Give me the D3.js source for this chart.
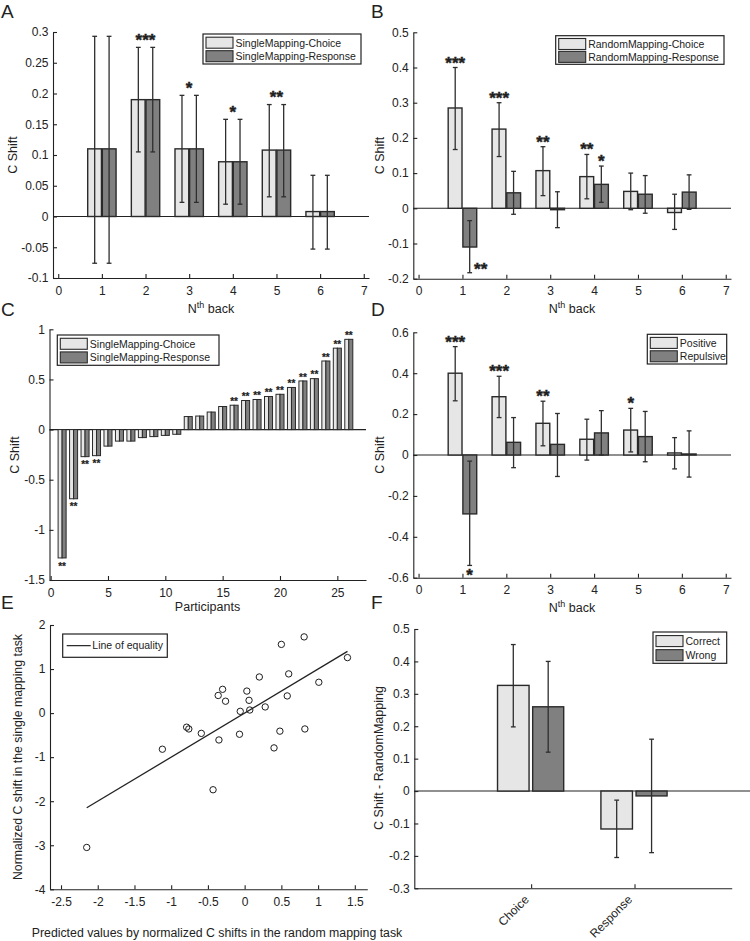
<!DOCTYPE html>
<html><head><meta charset="utf-8">
<script src="https://cdn.jsdelivr.net/npm/d3@7"></script>
<style>
body{margin:0;background:#fff}
svg{display:block}
text{font-family:"Liberation Sans", Arial, Helvetica, sans-serif;fill:#222}
</style>
</head><body>
<svg id="c" width="750" height="941"></svg>
<script>
// ---------------- DATA ----------------
const nBack = [1, 2, 3, 4, 5, 6];
const nBackTicks = [0, 1, 2, 3, 4, 5, 6, 7];

// Panel A
const aChoice     = [0.110, 0.190, 0.110, 0.089, 0.108, 0.008];
const aChoiceLo   = [-0.076, 0.105, 0.023, 0.020, 0.032, -0.053];
const aChoiceHi   = [0.293, 0.275, 0.197, 0.158, 0.182, 0.067];
const aResponse   = [0.110, 0.190, 0.110, 0.089, 0.108, 0.008];
const aResponseLo = [-0.076, 0.105, 0.023, 0.020, 0.032, -0.053];
const aResponseHi = [0.293, 0.275, 0.197, 0.158, 0.182, 0.067];
const aStars      = ["", "***", "*", "*", "**", ""];
const aYTicks     = [-0.1, -0.05, 0, 0.05, 0.1, 0.15, 0.2, 0.25, 0.3];

// Panel B
const bChoice     = [0.285, 0.225, 0.107, 0.090, 0.048, -0.012];
const bChoiceLo   = [0.167, 0.147, 0.036, 0.027, -0.004, -0.060];
const bChoiceHi   = [0.400, 0.300, 0.175, 0.153, 0.100, 0.040];
const bResponse   = [-0.110, 0.044, -0.004, 0.068, 0.040, 0.046];
const bResponseLo = [-0.183, -0.017, -0.055, 0.017, -0.014, -0.003];
const bResponseHi = [-0.035, 0.105, 0.047, 0.120, 0.093, 0.095];
const bChoiceStars   = ["***", "***", "**", "**", "", ""];
const bResponseStars = ["**", "", "", "*", "", ""];
const bYTicks = [-0.2, -0.1, 0, 0.1, 0.2, 0.3, 0.4, 0.5];

// Panel C
const participants = d3.range(1, 27);
const cChoice   = [-1.28, -0.69, -0.27, -0.26, -0.165, -0.115, -0.115, -0.08, -0.07, -0.058, -0.047,
                   0.13, 0.135, 0.175, 0.23, 0.243, 0.29, 0.30, 0.33, 0.352, 0.42, 0.485, 0.508, 0.684, 0.812, 0.90];
const cResponse = [-1.28, -0.69, -0.27, -0.26, -0.165, -0.115, -0.115, -0.08, -0.07, -0.058, -0.047,
                   0.13, 0.135, 0.175, 0.23, 0.243, 0.29, 0.30, 0.33, 0.352, 0.42, 0.485, 0.508, 0.684, 0.812, 0.90];
const cStars = ["**", "**", "**", "**", "", "", "", "", "", "", "", "", "", "", "",
                "**", "**", "**", "**", "**", "**", "**", "**", "**", "**", "**"];
const cXTicks = [0, 5, 10, 15, 20, 25];
const cYTicks = [-1.5, -1, -0.5, 0, 0.5, 1];

// Panel D
const dPositive     = [0.400, 0.285, 0.155, 0.077, 0.122, 0.010];
const dPositiveLo   = [0.265, 0.183, 0.045, -0.025, 0.015, -0.068];
const dPositiveHi   = [0.530, 0.385, 0.263, 0.175, 0.228, 0.085];
const dRepulsive    = [-0.288, 0.062, 0.052, 0.108, 0.090, 0.005];
const dRepulsiveLo  = [-0.540, -0.062, -0.105, 0.000, -0.033, -0.108];
const dRepulsiveHi  = [-0.030, 0.183, 0.203, 0.217, 0.213, 0.118];
const dPositiveStars  = ["***", "***", "**", "", "*", ""];
const dRepulsiveStars = ["*", "", "", "", "", ""];
const dYTicks = [-0.6, -0.4, -0.2, 0, 0.2, 0.4, 0.6];

// Panel E
const ePredicted = [-2.15, -1.12, -0.79, -0.76, -0.59, -0.43, -0.35, -0.07, -0.36, -0.30, -0.26, -0.06, 0.07,
                    0.06, 0.03, 0.20, 0.28, 0.40, 0.48, 0.58, 0.60, 0.50, 0.81, 0.82, 1.01, 1.40];
const eSingle    = [-3.05, -0.82, -0.32, -0.36, -0.46, -1.74, -0.61, -0.48, 0.40, 0.54, 0.27, 0.04, 0.07,
                    0.29, 0.50, 0.82, 0.14, -0.79, -0.41, 0.39, 0.89, 1.56, 1.73, -0.36, 0.70, 1.26];
const eXTicks = [-2.5, -2, -1.5, -1, -0.5, 0, 0.5, 1, 1.5];
const eYTicks = [-4, -3, -2, -1, 0, 1, 2];

// Panel F
const fCategories = ["Choice", "Response"];
const fCorrect    = [0.326, -0.117];
const fCorrectLo  = [0.198, -0.205];
const fCorrectHi  = [0.452, -0.028];
const fWrong      = [0.260, -0.015];
const fWrongLo    = [0.120, -0.190];
const fWrongHi    = [0.400, 0.160];
const fYTicks = [-0.3, -0.2, -0.1, 0, 0.1, 0.2, 0.3, 0.4, 0.5];

// ---------------- DRAWING ----------------
const svg = d3.select("#c");
const FONT = '"Liberation Sans", Arial, Helvetica, sans-serif';
const LIGHT = "#e6e6e6", DARK = "#808080", EDGE = "#2a2a2a", INK = "#222";

function drawAxes(x, y, xTicks, yTicks, xFmt) {
  const gx = svg.append("g").attr("transform", `translate(0,${y.range()[0]})`)
    .call(d3.axisBottom(x).tickValues(xTicks).tickSizeInner(-4).tickSizeOuter(0).tickPadding(8)
      .tickFormat(xFmt || (d => String(d))));
  const gy = svg.append("g").attr("transform", `translate(${x.range()[0]},0)`)
    .call(d3.axisLeft(y).tickValues(yTicks).tickSizeInner(-4).tickSizeOuter(0).tickPadding(4.5)
      .tickFormat(d => String(d)));
  [gx, gy].forEach(g => {
    g.attr("font-family", FONT).attr("font-size", 12);
    g.select(".domain").attr("stroke", INK).attr("stroke-width", 1.1);
    g.selectAll(".tick line").attr("stroke", INK).attr("stroke-width", 1.1);
    g.selectAll("text").attr("fill", INK);
  });
  return [gx, gy];
}

function zeroLine(x, y, xEnd) {
  svg.append("line").attr("x1", x.range()[0]).attr("x2", xEnd)
    .attr("y1", y(0)).attr("y2", y(0)).attr("stroke", INK).attr("stroke-width", 1.1);
}

function bars(x, y, groups, vals, off0, off1, fill, sw) {
  svg.append("g").selectAll("rect").data(groups).join("rect")
    .attr("x", g => x(g + off0))
    .attr("width", g => x(g + off1) - x(g + off0))
    .attr("y", (g, i) => y(Math.max(0, vals[i])))
    .attr("height", (g, i) => Math.abs(y(vals[i]) - y(0)))
    .attr("fill", fill).attr("stroke", EDGE).attr("stroke-width", sw);
}

function errBars(x, y, groups, off, lo, hi) {
  const g = svg.append("g").attr("stroke", "#2e2e2e").attr("stroke-width", 1.3);
  groups.forEach((gv, i) => {
    const xc = x(gv + off);
    g.append("line").attr("x1", xc).attr("x2", xc).attr("y1", y(lo[i])).attr("y2", y(hi[i]));
    g.append("line").attr("x1", xc - 2.4).attr("x2", xc + 2.4).attr("y1", y(lo[i])).attr("y2", y(lo[i]));
    g.append("line").attr("x1", xc - 2.4).attr("x2", xc + 2.4).attr("y1", y(hi[i])).attr("y2", y(hi[i]));
  });
}

function star(xp, yc, txt, fs) {
  if (!txt) return;
  svg.append("text").attr("x", xp).attr("y", yc + 0.56 * fs).attr("text-anchor", "middle")
    .attr("font-size", fs).attr("font-weight", "bold").attr("fill", "#1e1e1e")
    .attr("stroke", "#1e1e1e").attr("stroke-width", fs > 12 ? 0.4 : 0.2).text(txt);
}

function legend(bx, by, bw, bh, items) {
  svg.append("rect").attr("x", bx).attr("y", by).attr("width", bw).attr("height", bh)
    .attr("fill", "#fff").attr("stroke", INK).attr("stroke-width", 1.2);
  items.forEach((it, i) => {
    const cy = items.length === 1 ? by + bh / 2 : by + bh * (0.29 + 0.45 * i);
    if (it.line) {
      svg.append("line").attr("x1", bx + 4).attr("x2", bx + 28).attr("y1", cy).attr("y2", cy)
        .attr("stroke", INK).attr("stroke-width", 1.2);
      svg.append("text").attr("x", bx + 29.6).attr("y", cy + 3.8).attr("font-size", 10.5).text(it.label);
    } else {
      svg.append("rect").attr("x", bx + 3).attr("y", cy - 5.5).attr("width", 27).attr("height", 11)
        .attr("fill", it.fill).attr("stroke", EDGE).attr("stroke-width", 1.1);
      svg.append("text").attr("x", bx + 32.5).attr("y", cy + 3.8).attr("font-size", 10.5).text(it.label);
    }
  });
}

function yTitle(cx, cy, txt, fs) {
  svg.append("text").attr("transform", `translate(${cx},${cy}) rotate(-90)`)
    .attr("text-anchor", "middle").attr("dy", "0.35em").attr("font-size", fs || 12.5).text(txt);
}

function nthTitle(cx, baseline) {
  const t = svg.append("text").attr("x", cx).attr("y", baseline).attr("text-anchor", "middle").attr("font-size", 12.5);
  t.append("tspan").text("N");
  t.append("tspan").attr("dy", -5).attr("font-size", 9).text("th");
  t.append("tspan").attr("dy", 5).text(" back");
}

function letter(x, y, txt) {
  svg.append("text").attr("x", x).attr("y", y).attr("font-size", 19).text(txt);
}

// ---- Panel A ----
(function () {
  const x = d3.scaleLinear().domain([-0.12, 7.12]).range([53, 369]);
  const y = d3.scaleLinear().domain([-0.1, 0.3]).range([278, 32]);
  zeroLine(x, y, 369);
  bars(x, y, nBack, aChoice, -0.325, -0.01, LIGHT, 1.4);
  bars(x, y, nBack, aResponse, 0.01, 0.325, DARK, 1.4);
  errBars(x, y, nBack, -0.165, aChoiceLo, aChoiceHi);
  errBars(x, y, nBack, 0.165, aResponseLo, aResponseHi);
  drawAxes(x, y, nBackTicks, aYTicks);
  nBack.forEach((g, i) => star(x(g), y(Math.max(aChoiceHi[i], aResponseHi[i])) - 11, aStars[i], 17));
  legend(203, 34, 158, 30, [{label: "SingleMapping-Choice", fill: LIGHT}, {label: "SingleMapping-Response", fill: DARK}]);
  yTitle(13, 155, "C Shift");
  nthTitle(211, 313);
  letter(1, 17.5, "A");
})();

// ---- Panel B ----
(function () {
  const x = d3.scaleLinear().domain([-0.12, 7.12]).range([413.3, 731]);
  const y = d3.scaleLinear().domain([-0.2, 0.5]).range([278.7, 32.3]);
  zeroLine(x, y, 731);
  bars(x, y, nBack, bChoice, -0.325, -0.01, LIGHT, 1.4);
  bars(x, y, nBack, bResponse, 0.01, 0.325, DARK, 1.4);
  errBars(x, y, nBack, -0.165, bChoiceLo, bChoiceHi);
  errBars(x, y, nBack, 0.165, bResponseLo, bResponseHi);
  drawAxes(x, y, nBackTicks, bYTicks);
  nBack.forEach((g, i) => {
    star(x(g - 0.165), y(bChoiceHi[i]) - 8.5, bChoiceStars[i], 17);
    if (bResponse[i] >= 0) star(x(g + 0.165), y(bResponseHi[i]) - 8.5, bResponseStars[i], 17);
    else star(x(g + 0.165) + 11, y(bResponseLo[i]) - 7, bResponseStars[i], 17);
  });
  legend(555.7, 35.7, 168.3, 28.6, [{label: "RandomMapping-Choice", fill: LIGHT}, {label: "RandomMapping-Response", fill: DARK}]);
  yTitle(380, 155.5, "C Shift");
  nthTitle(572, 313);
  letter(371, 17.5, "B");
})();

// ---- Panel C ----
(function () {
  const x = d3.scaleLinear().domain([-0.1, 27.5]).range([49.5, 366]);
  const y = d3.scaleLinear().domain([-1.5, 1]).range([580, 329.3]);
  zeroLine(x, y, 366);
  bars(x, y, participants, cChoice, -0.35, 0, LIGHT, 1);
  bars(x, y, participants, cResponse, 0, 0.35, DARK, 1);
  drawAxes(x, y, cXTicks, cYTicks);
  participants.forEach((p, i) => {
    const v = cChoice[i];
    star(x(p), v >= 0 ? y(v) - 6 : y(v) + 6, cStars[i], 10);
  });
  legend(57.3, 335, 161.7, 30.3, [{label: "SingleMapping-Choice", fill: LIGHT}, {label: "SingleMapping-Response", fill: DARK}]);
  yTitle(15, 455, "C Shift");
  svg.append("text").attr("x", 207.5).attr("y", 611).attr("text-anchor", "middle").attr("font-size", 12.5).text("Participants");
  letter(1, 316, "C");
})();

// ---- Panel D ----
(function () {
  const x = d3.scaleLinear().domain([-0.12, 7.12]).range([413.3, 731]);
  const y = d3.scaleLinear().domain([-0.6, 0.6]).range([577.7, 332.3]);
  zeroLine(x, y, 731);
  bars(x, y, nBack, dPositive, -0.325, -0.01, LIGHT, 1.4);
  bars(x, y, nBack, dRepulsive, 0.01, 0.325, DARK, 1.4);
  errBars(x, y, nBack, -0.165, dPositiveLo, dPositiveHi);
  errBars(x, y, nBack, 0.165, dRepulsiveLo, dRepulsiveHi);
  drawAxes(x, y, nBackTicks, dYTicks);
  nBack.forEach((g, i) => {
    star(x(g - 0.165), y(dPositiveHi[i]) - 8.5, dPositiveStars[i], 17);
    if (dRepulsive[i] >= 0) star(x(g + 0.165), y(dRepulsiveHi[i]) - 8.5, dRepulsiveStars[i], 17);
    else star(x(g + 0.165), y(dRepulsiveLo[i]) + 6.5, dRepulsiveStars[i], 17);
  });
  legend(647.3, 334.3, 79.4, 29.7, [{label: "Positive", fill: LIGHT}, {label: "Repulsive", fill: DARK}]);
  yTitle(380, 455, "C Shift");
  nthTitle(572, 612);
  letter(371, 316, "D");
})();

// ---- Panel E ----
(function () {
  const x = d3.scaleLinear().domain([-2.65, 1.67]).range([50, 367.3]);
  const y = d3.scaleLinear().domain([-4, 2]).range([889.3, 625]);
  drawAxes(x, y, eXTicks, eYTicks);
  const lo = d3.min(ePredicted), hi = d3.max(ePredicted);
  svg.append("path").datum([lo, hi])
    .attr("d", d3.line().x(d => x(d)).y(d => y(d)))
    .attr("stroke", INK).attr("stroke-width", 1.3).attr("fill", "none");
  svg.append("g").selectAll("circle").data(ePredicted).join("circle")
    .attr("cx", d => x(d)).attr("cy", (d, i) => y(eSingle[i])).attr("r", 3.2)
    .attr("fill", "none").attr("stroke", "#1e1e1e").attr("stroke-width", 1);
  legend(62.7, 634, 104.6, 23.3, [{label: "Line of equality", line: true}]);
  yTitle(18, 757, "Normalized C shift in the single mapping task", 12.3);
  svg.append("text").attr("x", 217).attr("y", 937).attr("text-anchor", "middle").attr("font-size", 12.3)
    .text("Predicted values by normalized C shifts in the random mapping task");
  letter(1, 609, "E");
})();

// ---- Panel F ----
(function () {
  const cats = [1, 2];
  const x = d3.scaleLinear().domain([-0.13, 2.94]).range([414.3, 731.7]);
  const y = d3.scaleLinear().domain([-0.3, 0.5]).range([888.3, 629]);
  zeroLine(x, y, 750);
  bars(x, y, cats, fCorrect, -0.325, -0.02, LIGHT, 1.4);
  bars(x, y, cats, fWrong, 0.015, 0.315, DARK, 1.4);
  errBars(x, y, cats, -0.1725, fCorrectLo, fCorrectHi);
  errBars(x, y, cats, 0.165, fWrongLo, fWrongHi);
  const [gx] = drawAxes(x, y, cats, fYTicks, d => fCategories[d - 1]);
  gx.selectAll("text").attr("y", 0).attr("dy", 0).attr("text-anchor", "end")
    .attr("transform", "translate(-2,12) rotate(-45)");
  legend(653, 632, 73.7, 31.3, [{label: "Correct", fill: LIGHT}, {label: "Wrong", fill: DARK}]);
  yTitle(379, 758, "C Shift - RandomMapping");
  letter(371, 609, "F");
})();
</script>
</body></html>
